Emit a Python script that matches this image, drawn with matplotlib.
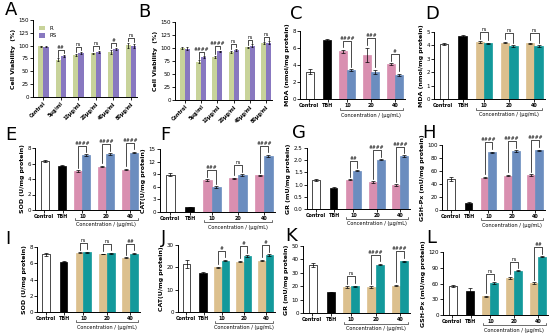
import matplotlib.pyplot as plt
import matplotlib.transforms as mtransforms

plt.rcParams['font.family'] = ['DejaVu Sans']
plt.rcParams['axes.linewidth'] = 0.7

# ---- data ----
via_cats = ["Control", "5μg/ml", "10μg/ml", "20μg/ml", "40μg/ml", "80μg/ml"]
a_R = [99, 73, 82, 85, 88, 101]
a_RS = [98, 80, 86, 88, 94, 100]
a_Rerr = [1, 2, 2, 1, 4, 5]
a_RSerr = [1, 2, 2, 2, 2, 4]
a_sig = ["", "##", "ns", "ns", "#", "ns"]

b_R = [100, 74, 83, 93, 101, 109]
b_RS = [99, 82, 94, 96, 104, 110]
b_Rerr = [2, 2, 2, 2, 1, 2]
b_RSerr = [2, 2, 1, 2, 3, 3]
b_sig = ["", "####", "####", "ns", "ns", "ns"]

conc = ["10", "20", "40"]

# each panel: control, TBH, first series (3), second series (3)
panels = {
    "C": dict(ylab="MDA (nmol/mg protein)", ylim=8, ticks=[0, 2, 4, 6, 8],
              ctrl=3.2, tbh=6.9, s1=[5.6, 5.2, 4.1], s2=[3.4, 3.2, 2.85],
              e=[0.3, 0.2, 0.15, 0.8, 0.1, 0.1, 0.2, 0.1],
              sig=["####", "###", "#"], pal="pb"),
    "D": dict(ylab="MDA (nmol/mg protein)", ylim=5, ticks=[0, 1, 2, 3, 4, 5],
              ctrl=4.1, tbh=4.7, s1=[4.25, 4.2, 4.15], s2=[4.15, 3.95, 3.95],
              e=[0.05, 0.05, 0.05, 0.05, 0.05, 0.05, 0.05, 0.05],
              sig=["ns", "ns", "ns"], pal="tt"),
    "E": dict(ylab="SOD (U/mg protein)", ylim=8, ticks=[0, 2, 4, 6, 8],
              ctrl=6.3, tbh=5.7, s1=[5.0, 5.6, 5.2], s2=[7.1, 7.25, 7.4],
              e=[0.1, 0.05, 0.1, 0.1, 0.1, 0.1, 0.1, 0.1],
              sig=["####", "####", "####"], pal="pb"),
    "F": dict(ylab="CAT(U/mg protein)", ylim=15, ticks=[0, 3, 6, 9, 12, 15],
              ctrl=8.9, tbh=1.1, s1=[7.6, 8.0, 8.7], s2=[5.9, 8.8, 13.3],
              e=[0.4, 0.2, 0.2, 0.2, 0.1, 0.2, 0.2, 0.3],
              sig=["###", "ns", "####"], pal="pb"),
    "G": dict(ylab="GR (mU/mg protein)", ylim=2.5, ticks=[0, 0.5, 1.0, 1.5, 2.0, 2.5],
              ctrl=1.17, tbh=0.87, s1=[1.2, 1.1, 0.98], s2=[1.57, 2.02, 2.17],
              e=[0.04, 0.05, 0.03, 0.05, 0.03, 0.03, 0.03, 0.03],
              sig=["##", "####", "####"], pal="pb"),
    "H": dict(ylab="GSH-Px (mU/mg protein)", ylim=100, ticks=[0, 20, 40, 60, 80, 100],
              ctrl=48, tbh=11, s1=[50, 53, 54], s2=[89, 91, 92],
              e=[3, 2, 1, 1, 1, 1, 1, 1],
              sig=["####", "####", "####"], pal="pb"),
    "I": dict(ylab="SOD (U/mg protein)", ylim=8, ticks=[0, 2, 4, 6, 8],
              ctrl=7.1, tbh=6.2, s1=[7.3, 7.15, 6.7], s2=[7.35, 7.25, 7.2],
              e=[0.15, 0.05, 0.05, 0.05, 0.05, 0.05, 0.05, 0.05],
              sig=["ns", "ns", "##"], pal="tt"),
    "J": dict(ylab="CAT(U/mg protein)", ylim=30, ticks=[0, 10, 20, 30],
              ctrl=21.5, tbh=17.5, s1=[20, 22.5, 23], s2=[23, 25, 25.5],
              e=[2, 0.3, 0.3, 0.3, 0.3, 0.3, 0.3, 0.3],
              sig=["#", "#", "#"], pal="tt"),
    "K": dict(ylab="GR (mU/mg protein)", ylim=50, ticks=[0, 10, 20, 30, 40, 50],
              ctrl=36, tbh=15.5, s1=[19.5, 19.5, 20.5], s2=[20, 36, 38.5],
              e=[1.5, 0.3, 0.5, 0.5, 0.5, 0.5, 0.5, 0.5],
              sig=["ns", "####", "####"], pal="tt"),
    "L": dict(ylab="GSH-Px (mU/mg protein)", ylim=120, ticks=[0, 30, 60, 90, 120],
              ctrl=56, tbh=45, s1=[36, 71, 61], s2=[61, 84, 111],
              e=[2, 6, 1, 2, 1, 1, 1, 1],
              sig=["ns", "ns", "##"], pal="tt"),
}

colors = {"pb": ("#d98fb0", "#6b8dbf"), "tt": ("#dcc08e", "#13999b")}

# pixel boxes (left, top, right, bottom)
boxes = {
    "A": (33, 20, 137, 97), "B": (175, 22, 272, 100),
    "C": (300, 31, 405, 99), "D": (434, 32, 545, 99),
    "E": (35, 148, 140, 210), "F": (160, 149, 275, 212),
    "G": (307, 148, 410, 209), "H": (442, 145, 545, 210),
    "I": (37, 247, 140, 312), "J": (178, 245, 275, 312),
    "K": (303, 246, 410, 313), "L": (443, 252, 548, 315),
}
letter_pos = {
    "A": (5, 10), "B": (138, 12), "C": (290, 14), "D": (425, 14),
    "E": (5, 135), "F": (160, 135), "G": (292, 133), "H": (422, 133),
    "I": (5, 239), "J": (161, 238), "K": (285, 236), "L": (426, 238),
}

W, H = 550, 336
fig = plt.figure(figsize=(5.5, 3.36), dpi=100)


def make_ax(key):
    l, t, r, b = boxes[key]
    ax = fig.add_axes([l / W, 1 - b / H, (r - l) / W, (b - t) / H])
    for s in ["top", "right"]:
        ax.spines[s].set_visible(False)
    ax.tick_params(labelsize=4, width=0.6, length=2, pad=1)
    x, y = letter_pos[key]
    fig.text(x / W, 1 - y / H, key, fontsize=13, va="center", ha="left")
    return ax


def bracket(ax, x1, x2, y1, y2, top, text, fs=3.3):
    ax.plot([x1, x1, x2, x2], [y1, top, top, y2], color="k", lw=0.5, clip_on=False)
    ax.text((x1 + x2) / 2, top, text, ha="center", va="bottom", fontsize=fs, clip_on=False)


# ---- A, B: cell viability ----
for key, R, RS, Re, RSe, sg in [("A", a_R, a_RS, a_Rerr, a_RSerr, a_sig),
                                 ("B", b_R, b_RS, b_Rerr, b_RSerr, b_sig)]:
    ax = make_ax(key)
    xs = list(range(len(via_cats)))
    w = 0.3
    ax.bar([x - w / 2 for x in xs], R, w, yerr=Re, color="#c8d39a", label="R",
           error_kw=dict(lw=0.5, capsize=1, capthick=0.5))
    ax.bar([x + w / 2 for x in xs], RS, w, yerr=RSe, color="#8878c0", label="RS",
           error_kw=dict(lw=0.5, capsize=1, capthick=0.5))
    ax.set_ylim(0, 150)
    ax.set_yticks([0, 25, 50, 75, 100, 125, 150])
    ax.set_xlim(-0.6, 5.35)
    ax.set_xticks(xs)
    ax.set_xticklabels(via_cats, rotation=45, ha="right", fontsize=3.5,
                       fontweight="bold", rotation_mode="anchor")
    ax.set_ylabel("Cell Viability  (%)", fontsize=4.5, fontweight="bold", labelpad=2)
    for i in range(1, len(xs)):
        y1 = R[i] + Re[i] + 3
        y2 = RS[i] + RSe[i] + 3
        bracket(ax, xs[i] - w / 2, xs[i] + w / 2, y1, y2, max(y1, y2) + 6, sg[i])
    if key == "A":
        ax.legend(loc="upper left", fontsize=4, frameon=False, handlelength=1.2,
                  handleheight=0.8, borderaxespad=0.6, labelspacing=0.5)

# ---- C..L: control / TBH / concentrations ----
pos = [0, 2.2, 4.25, 7.25, 10.25, 5.25, 8.25, 11.25]
for key, d in panels.items():
    ax = make_ax(key)
    c1, c2 = colors[d["pal"]]
    vals = [d["ctrl"], d["tbh"]] + d["s1"] + d["s2"]
    cols = ["white", "black"] + [c1] * 3 + [c2] * 3
    ax.bar(pos, vals, 1.0, yerr=d["e"], color=cols, edgecolor=["k", "k"] + cols[2:],
           linewidth=0.5, error_kw=dict(lw=0.5, capsize=1.2, capthick=0.5))
    ax.set_ylim(0, d["ylim"])
    ax.set_yticks(d["ticks"])
    ax.set_xlim(-1.2, 12.0)
    ax.set_xticks([-0.1, 2.3, 4.75, 7.75, 10.75])
    ax.set_xticklabels(["Control", "TBH"] + conc, fontsize=3.5, fontweight="bold")
    ax.set_ylabel(d["ylab"], fontsize=4.5, fontweight="bold", labelpad=2)
    off = d["ylim"] * 0.04
    for i in range(3):
        y1 = d["s1"][i] + d["e"][2 + i] + off
        y2 = d["s2"][i] + d["e"][5 + i] + off
        bracket(ax, pos[2 + i], pos[5 + i], y1, y2, max(y1, y2) + d["ylim"] * 0.1,
                d["sig"][i])
    # concentration bracket below the axis
    tr = mtransforms.blended_transform_factory(ax.transData, ax.transAxes)
    ax.plot([3.8, 3.8, 11.7, 11.7], [-0.13, -0.16, -0.16, -0.13], color="k", lw=0.4,
            transform=tr, clip_on=False)
    ax.text(7.75, -0.2, "Concentration / (μg/mL)", transform=tr, ha="center",
            va="top", fontsize=3.6)

fig.savefig("out.png", dpi=100)
